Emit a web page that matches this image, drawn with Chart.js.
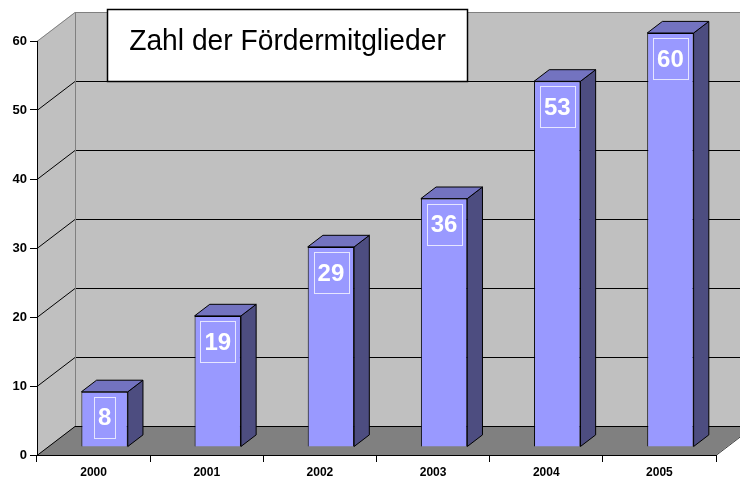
<!DOCTYPE html>
<html lang="de">
<head>
    <meta charset="UTF-8">
    <title>Zahl der Fördermitglieder</title>
    <script src="https://cdn.jsdelivr.net/npm/chart.js"></script>
    <style>
        body { margin: 0; background: #fff; }
        canvas { display: block; }
    </style>
</head>
<body>
    <canvas id="memberChart" width="740" height="477"></canvas>
    <script>
        const chartTitle = 'Zahl der Fördermitglieder';
        const years = ['2000', '2001', '2002', '2003', '2004', '2005'];
        const members = [8, 19, 29, 36, 53, 60];
        const yMin = 0;
        const yMax = 60;
        const yStep = 10;

        // 3D look: wall depth and where the bars sit inside it
        const depthX = 38, depthY = 29;
        const barFront = 0.28, barDepth = 0.4;
        const font = 'Arial, "Liberation Sans", sans-serif';

        const wallsPlugin = {
            id: 'walls',
            beforeDraw(chart) {
                const ctx = chart.ctx;
                const { left, right, top, bottom } = chart.chartArea;
                const yScale = chart.scales.y;
                ctx.save();
                ctx.lineWidth = 1;
                // left side wall
                ctx.fillStyle = '#c0c0c0';
                ctx.beginPath();
                ctx.moveTo(left, bottom);
                ctx.lineTo(left, top);
                ctx.lineTo(left + depthX, top - depthY);
                ctx.lineTo(left + depthX, bottom - depthY);
                ctx.closePath();
                ctx.fill();
                // back wall
                ctx.fillRect(left + depthX, top - depthY, right - left, bottom - top);
                // floor
                ctx.fillStyle = '#808080';
                ctx.beginPath();
                ctx.moveTo(left, bottom);
                ctx.lineTo(right, bottom);
                ctx.lineTo(right + depthX, bottom - depthY);
                ctx.lineTo(left + depthX, bottom - depthY);
                ctx.closePath();
                ctx.fill();
                // grid lines on side and back wall
                for (let v = yMin; v <= yMax; v += yStep) {
                    const yy = Math.round(yScale.getPixelForValue(v)) + 0.5;
                    ctx.strokeStyle = v === yMax ? '#808080' : '#000';
                    ctx.beginPath();
                    ctx.moveTo(left, yy);
                    ctx.lineTo(left + depthX, yy - depthY);
                    ctx.lineTo(right + depthX, yy - depthY);
                    ctx.stroke();
                }
                ctx.strokeStyle = '#808080';
                ctx.beginPath();
                ctx.moveTo(left + depthX + 0.5, top - depthY);
                ctx.lineTo(left + depthX + 0.5, bottom - depthY);
                ctx.stroke();
                ctx.strokeStyle = '#404040';
                ctx.beginPath();
                ctx.moveTo(right, bottom + 0.5);
                ctx.lineTo(right + depthX, bottom - depthY + 0.5);
                ctx.stroke();
                ctx.restore();
            }
        };

        const bars3dPlugin = {
            id: 'bars3d',
            beforeDatasetsDraw(chart) {
                chart.ctx.save();
                chart.ctx.translate(Math.round(depthX * barFront), -Math.round(depthY * barFront));
            },
            afterDatasetsDraw(chart) {
                const ctx = chart.ctx;
                ctx.restore();
                const fx = Math.round(depthX * barFront), fy = Math.round(depthY * barFront);
                const bx = depthX * barDepth, by = depthY * barDepth;
                const meta = chart.getDatasetMeta(0);
                ctx.save();
                ctx.lineWidth = 1;
                ctx.strokeStyle = '#000';
                meta.data.forEach((bar, i) => {
                    const l = bar.x - bar.width / 2 + fx;
                    const r = bar.x + bar.width / 2 + fx;
                    const t = bar.y - fy;
                    const b = bar.base - fy;
                    // side face
                    ctx.fillStyle = '#4d4d80';
                    ctx.beginPath();
                    ctx.moveTo(r, t);
                    ctx.lineTo(r + bx, t - by);
                    ctx.lineTo(r + bx, b - by);
                    ctx.lineTo(r, b);
                    ctx.closePath();
                    ctx.fill();
                    ctx.stroke();
                    // top face
                    ctx.fillStyle = '#7373c0';
                    ctx.beginPath();
                    ctx.moveTo(l, t);
                    ctx.lineTo(l + bx, t - by);
                    ctx.lineTo(r + bx, t - by);
                    ctx.lineTo(r, t);
                    ctx.closePath();
                    ctx.fill();
                    ctx.stroke();
                    // value label in a thin box
                    const text = String(members[i]);
                    ctx.font = 'bold 24px ' + font;
                    const w = ctx.measureText(text).width + 8;
                    const cx = (l + r) / 2;
                    const boxTop = t + 5;
                    ctx.strokeStyle = '#e6e6ff';
                    ctx.strokeRect(Math.round(cx - w / 2) + 0.5, Math.round(boxTop) + 0.5, Math.round(w), 41);
                    ctx.strokeStyle = '#000';
                    ctx.fillStyle = '#fff';
                    ctx.textAlign = 'center';
                    ctx.textBaseline = 'middle';
                    ctx.fillText(text, cx, boxTop + 22);
                });
                ctx.restore();
            }
        };

        const titleBoxPlugin = {
            id: 'titleBox',
            afterDraw(chart) {
                const ctx = chart.ctx;
                const { left } = chart.chartArea;
                const x0 = left + 70;
                const y0 = 9;
                const w = 360, h = 72;
                ctx.save();
                ctx.fillStyle = '#fff';
                ctx.fillRect(x0, y0, w, h);
                ctx.lineWidth = 1.5;
                ctx.strokeStyle = '#000';
                ctx.strokeRect(x0 + 0.5, y0 + 0.5, w, h);
                ctx.fillStyle = '#000';
                ctx.font = '30px ' + font;
                ctx.textAlign = 'center';
                ctx.textBaseline = 'alphabetic';
                ctx.translate(x0 + w / 2 + 0.5, y0 + 41);
                ctx.scale(0.94, 1);
                ctx.fillText(chartTitle, 0, 0);
                ctx.restore();
            }
        };

        new Chart(document.getElementById('memberChart'), {
            type: 'bar',
            data: {
                labels: years,
                datasets: [{
                    data: members,
                    backgroundColor: '#9999ff',
                    borderColor: '#000',
                    borderWidth: 1,
                    barPercentage: 0.41,
                    categoryPercentage: 1,
                    clip: false
                }]
            },
            options: {
                responsive: false,
                animation: false,
                layout: { padding: { top: 41, right: 24, left: 0, bottom: 0 } },
                plugins: {
                    legend: { display: false },
                    tooltip: { enabled: false },
                    title: { display: false }
                },
                scales: {
                    x: {
                        afterFit: scale => { scale.height = 22; },
                        grid: { drawOnChartArea: false, tickLength: 7, color: '#000', offset: true },
                        border: { color: '#000' },
                        ticks: { color: '#000', padding: 3, font: { family: font, size: 12, weight: 'bold' } }
                    },
                    y: {
                        min: yMin,
                        max: yMax,
                        afterFit: scale => { scale.width = 37; },
                        grid: { drawOnChartArea: false, tickLength: 7, color: '#000' },
                        border: { color: '#000' },
                        ticks: { stepSize: yStep, color: '#000', padding: 3, font: { family: font, size: 13, weight: 'bold' } }
                    }
                }
            },
            plugins: [wallsPlugin, bars3dPlugin, titleBoxPlugin]
        });
    </script>
</body>
</html>
